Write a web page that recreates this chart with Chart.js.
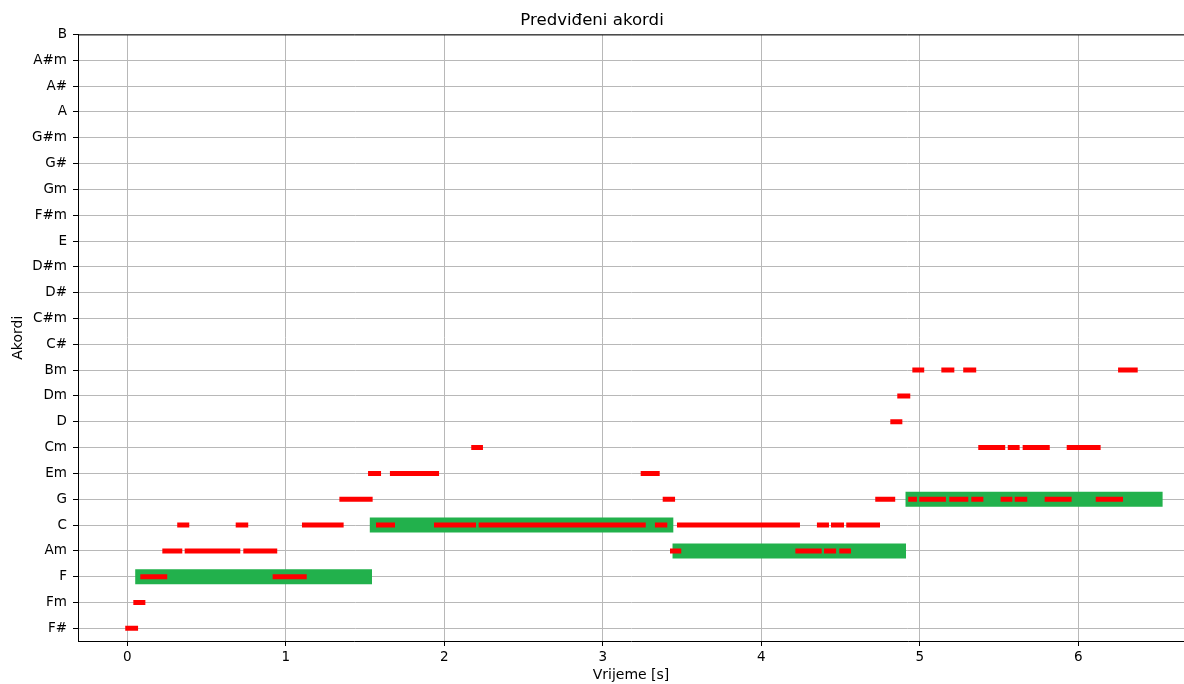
<!DOCTYPE html>
<html lang="hr">
<head>
    <meta charset="UTF-8">
    <title>Predviđeni akordi</title>
    <script src="https://cdn.jsdelivr.net/npm/chart.js"></script>
    <style>
        body { margin: 0; background: #fff; }
        #wrap { width: 1184px; height: 684px; }
    </style>
</head>
<body>
    <div id="wrap"><canvas id="akordi" width="1184" height="684"></canvas></div>
    <script>
        // oznake akorda na y osi (odozdo prema gore)
        const chordLabels = ['F#', 'Fm', 'F', 'Am', 'C', 'G', 'Em', 'Cm', 'D', 'Dm', 'Bm', 'C#', 'C#m',
            'D#', 'D#m', 'E', 'F#m', 'Gm', 'G#', 'G#m', 'A', 'A#', 'A#m', 'B'];
        const xTicks = [0, 1, 2, 3, 4, 5, 6];

        // stvarni akordi (zeleno)
        const trueChord = ['F', 'C', 'Am', 'G'];
        const trueStart = [0.05, 1.53, 3.44, 4.91];
        const trueEnd = [1.544, 3.445, 4.913, 6.532];

        // predviđeni akordi (crveno)
        const predChord = ['F#', 'Fm', 'F', 'Am', 'C', 'Am', 'C', 'Am', 'F', 'C',
            'G', 'Em', 'C', 'Em', 'C', 'Cm', 'C', 'Em', 'C', 'G',
            'Am', 'C', 'Am', 'C', 'Am', 'C', 'Am', 'C', 'G', 'D',
            'Dm', 'G', 'Bm', 'G', 'Bm', 'G', 'Bm', 'G', 'Cm', 'G',
            'Cm', 'G', 'Cm', 'G', 'Cm', 'G', 'Bm'];
        const predStart = [-0.013, 0.038, 0.082, 0.221, 0.315, 0.362, 0.684, 0.732, 0.917, 1.102,
            1.338, 1.519, 1.569, 1.657, 1.935, 2.170, 2.217, 3.239, 3.329, 3.378,
            3.424, 3.468, 4.215, 4.351, 4.396, 4.440, 4.492, 4.536, 4.719, 4.814,
            4.858, 4.927, 4.953, 4.997, 5.136, 5.186, 5.274, 5.325, 5.369, 5.510,
            5.555, 5.599, 5.649, 5.788, 5.927, 6.110, 6.251];
        const predEnd = [0.068, 0.114, 0.252, 0.347, 0.391, 0.713, 0.763, 0.946, 1.132, 1.365,
            1.548, 1.601, 1.689, 1.967, 2.200, 2.244, 3.271, 3.359, 3.407, 3.456,
            3.495, 4.244, 4.381, 4.427, 4.472, 4.522, 4.566, 4.749, 4.845, 4.890,
            4.940, 4.982, 5.028, 5.165, 5.218, 5.306, 5.356, 5.401, 5.539, 5.584,
            5.630, 5.678, 5.820, 5.958, 6.141, 6.282, 6.375];

        // segmenti -> točke za liniju, s prekidom (null) između segmenata
        function segmenti(chords, starts, ends) {
            const pts = [];
            for (let i = 0; i < chords.length; i++) {
                const y = chordLabels.indexOf(chords[i]);
                pts.push({ x: starts[i], y: y });
                pts.push({ x: ends[i], y: y });
                pts.push({ x: ends[i], y: null });
            }
            return pts;
        }

        // gornja os (spine) kao u matplotlibu
        const gornjaOs = {
            id: 'gornjaOs',
            afterDraw(chart) {
                const { ctx, chartArea } = chart;
                ctx.save();
                ctx.strokeStyle = '#000';
                ctx.lineWidth = 1;
                ctx.beginPath();
                ctx.moveTo(chartArea.left, chartArea.top + 0.5);
                ctx.lineTo(chartArea.right, chartArea.top + 0.5);
                ctx.stroke();
                ctx.restore();
            }
        };

        Chart.defaults.font.family = '"DejaVu Sans", sans-serif';
        Chart.defaults.color = '#000';

        const ctx = document.getElementById('akordi').getContext('2d');
        const chart = new Chart(ctx, {
            type: 'scatter',
            data: {
                datasets: [
                    {
                        label: 'Predviđeno',
                        data: segmenti(predChord, predStart, predEnd),
                        showLine: true,
                        spanGaps: false,
                        borderColor: '#ff0000',
                        borderWidth: 5,
                        borderCapStyle: 'butt',
                        pointRadius: 0,
                        tension: 0
                    },
                    {
                        label: 'Stvarno',
                        data: segmenti(trueChord, trueStart, trueEnd),
                        showLine: true,
                        spanGaps: false,
                        borderColor: '#22b14c',
                        borderWidth: 15,
                        borderCapStyle: 'butt',
                        pointRadius: 0,
                        tension: 0
                    }
                ]
            },
            options: {
                responsive: false,
                animation: false,
                devicePixelRatio: 1,
                layout: { padding: { left: 0, right: 0, top: 0, bottom: 0 } },
                plugins: {
                    legend: { display: false },
                    tooltip: { enabled: false },
                    title: {
                        display: true,
                        text: 'Predviđeni akordi',
                        font: { size: 16.6, weight: 'normal' },
                        color: '#000',
                        padding: { top: 10.5, bottom: 4 }
                    }
                },
                scales: {
                    x: {
                        type: 'linear',
                        min: -0.311,
                        max: 6.667,
                        afterBuildTicks: (scale) => { scale.ticks = xTicks.map(v => ({ value: v })); },
                        afterFit: (scale) => { scale.height = 43; },
                        ticks: { font: { size: 13.5 }, padding: 3, maxRotation: 0 },
                        grid: { color: '#b8b8b8', lineWidth: 1, tickLength: 5, tickColor: '#000' },
                        border: { color: '#000', width: 1 },
                        title: {
                            display: true,
                            text: 'Vrijeme [s]',
                            font: { size: 14 },
                            padding: { top: 0, bottom: 0 }
                        }
                    },
                    y: {
                        type: 'linear',
                        min: -0.49,
                        max: 23,
                        afterBuildTicks: (scale) => { scale.ticks = chordLabels.map((_, i) => ({ value: i })); },
                        afterFit: (scale) => { scale.width = 78; },
                        ticks: {
                            font: { size: 13.5 },
                            padding: 6,
                            callback: (v) => chordLabels[v]
                        },
                        grid: { color: '#b8b8b8', lineWidth: 1, tickLength: 5, tickColor: '#000' },
                        border: { color: '#000', width: 1 },
                        title: {
                            display: true,
                            text: 'Akordi',
                            font: { size: 14 },
                            padding: { top: 10, bottom: 0 }
                        }
                    }
                }
            },
            plugins: [gornjaOs]
        });
    </script>
</body>
</html>
